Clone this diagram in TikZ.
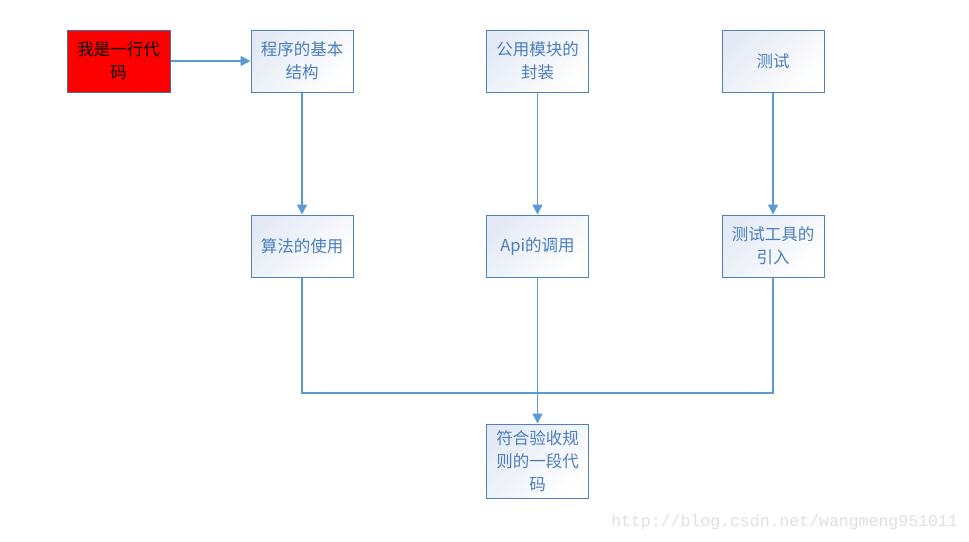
\documentclass[tikz,border=0pt]{standalone}
\usepackage{fontspec}
\usepackage{xcolor}
\usepackage{tikz}
\usetikzlibrary{positioning, arrows.meta}
\newfontfamily\cjk{Noto Sans CJK SC}
\setmonofont{Liberation Mono}
\definecolor{boxborder}{HTML}{4F81BD}
\definecolor{boxtext}{HTML}{4A7EBB}
\definecolor{boxtint}{HTML}{E4EAF5}
\definecolor{flowline}{HTML}{5B9BD5}
\definecolor{redborder}{HTML}{41719C}
\definecolor{markgray}{HTML}{E0E0E0}

\tikzset{
  stepbox/.style={draw=boxborder, line width=1pt, top color=boxtint, bottom color=white,
    shading angle=45, text=boxtext, align=center, minimum width=102pt,
    minimum height=62pt, inner sep=2pt, font=\cjk\fontsize{16.5}{23}\selectfont},
  flow/.style={draw=flowline, line width=1.6pt},
  flowarrow/.style={flow, -{Triangle[length=10pt, width=10pt]}}
}

\begin{document}
\begin{tikzpicture}[x=1pt, y=-1pt]
    \useasboundingbox[fill=white] (0,0) rectangle (969,541);

    % top row
    \node[draw=redborder, line width=1pt, fill=red, text=black, align=center,
          minimum width=103pt, minimum height=62pt, inner sep=2pt,
          font=\cjk\fontsize{16.5}{23}\selectfont] (daima) at (118.5,61) {我是一行代\\码};
    \node[stepbox, right=80pt of daima] (jiegou) {程序的基本\\结构};
    \node[stepbox, right=132.5pt of jiegou] (fengzhuang) {公用模块的\\封装};
    \node[stepbox, right=132.5pt of fengzhuang] (ceshi) {测试};

    % second row
    \node[stepbox, below=122pt of jiegou] (suanfa) {算法的使用};
    \node[stepbox, below=122pt of fengzhuang] (api) {Api的调用};
    \node[stepbox, below=122pt of ceshi] (gongju) {测试工具的\\引入};

    % result
    \node[stepbox, minimum height=74pt, below=146pt of api] (jieguo) {符合验收规\\则的一段代\\码};
    \coordinate (hui) at (api.south |- 0,393);

    \draw[flowarrow] (daima) -- (jiegou);
    \draw[flowarrow] (jiegou) -- (suanfa);
    \draw[flowarrow] (fengzhuang) -- (api);
    \draw[flowarrow] (ceshi) -- (gongju);
    \draw[flow] (suanfa.south) |- (hui);
    \draw[flow] (gongju.south) |- (hui);
    \draw[flowarrow] (api) -- (jieguo);

    \node[anchor=south east, inner sep=0pt, text=markgray,
          font=\ttfamily\fontsize{16.5}{18}\selectfont] (mark) at (958,530)
          {http://blog.csdn.net/wangmeng951011};
  \end{tikzpicture}
\end{document}
